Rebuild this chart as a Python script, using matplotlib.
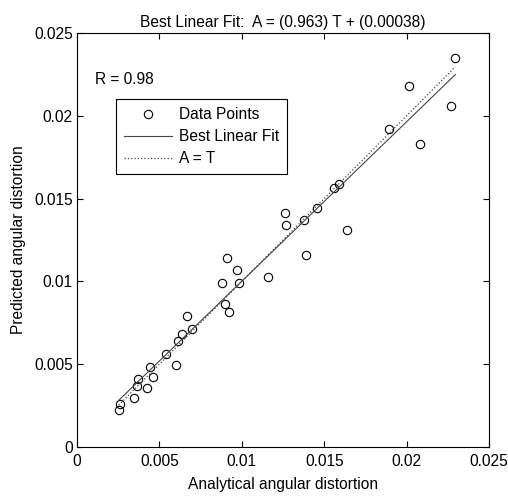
import matplotlib
matplotlib.use('Agg')
import matplotlib.pyplot as plt
from matplotlib.ticker import FormatStrFormatter
import numpy as np

plt.rcParams['font.family'] = ['Liberation Sans', 'DejaVu Sans']

# analytical (T) vs predicted (A) angular distortion
analytical = [0.02296, 0.02017, 0.02267, 0.01893, 0.02081, 0.01559, 0.01588,
              0.01454, 0.01262, 0.01268, 0.01375, 0.01638, 0.01390, 0.00908,
              0.00969, 0.01157, 0.00878, 0.00983, 0.00900, 0.00920, 0.00666,
              0.00698, 0.00635, 0.00615, 0.00538, 0.00603, 0.00441, 0.00459,
              0.00368, 0.00362, 0.00427, 0.00346, 0.00261, 0.00253]
predicted = [0.02347, 0.02180, 0.02059, 0.01920, 0.01828, 0.01564, 0.01588,
             0.01441, 0.01415, 0.01341, 0.01369, 0.01312, 0.01159, 0.01143,
             0.01069, 0.01028, 0.00992, 0.00992, 0.00864, 0.00813, 0.00791,
             0.00711, 0.00682, 0.00638, 0.00563, 0.00493, 0.00481, 0.00421,
             0.00409, 0.00368, 0.00354, 0.00294, 0.00258, 0.00223]
slope = 0.963
intercept = 0.00038
r_value = 0.98
ticks = [0, 0.005, 0.01, 0.015, 0.02, 0.025]

T = np.array(analytical)
A = np.array(predicted)
t_line = np.array([T.min(), T.max()])

fs = 11.2

fig = plt.figure(figsize=(5.08, 4.96), dpi=100)
ax = fig.add_axes([0.1516, 0.0988, 0.811, 0.8347])

ax.plot(T, A, 'o', mfc='none', mec='black', ms=6, mew=0.8, label='Data Points')
ax.plot(t_line, slope * t_line + intercept, '-', color='#444444', lw=0.8,
        label='Best Linear Fit')
ax.plot(t_line, t_line, ':', color='#444444', lw=0.9, label='A = T')

ax.set_xlim(0, 0.025)
ax.set_ylim(0, 0.025)
ax.set_xticks(ticks)
ax.set_yticks(ticks)
ax.xaxis.set_major_formatter(FormatStrFormatter('%g'))
ax.yaxis.set_major_formatter(FormatStrFormatter('%g'))
ax.tick_params(direction='in', top=True, right=True, length=4, width=0.8,
               labelsize=fs, pad=3)
ax.tick_params(axis='x', pad=5)
for s in ax.spines.values():
    s.set_linewidth(0.8)

ax.set_xlabel('Analytical angular distortion', fontsize=fs, labelpad=6)
ax.set_ylabel('Predicted angular distortion', fontsize=fs, labelpad=6)
ax.set_title('Best Linear Fit:  A = (%.3f) T + (%.5f)' % (slope, intercept),
             fontsize=fs, pad=4)
ax.text(0.0011, 0.0222, 'R = %.2f' % r_value, fontsize=fs, va='center')

leg = ax.legend(loc='upper left', bbox_to_anchor=(0.095, 0.84), fontsize=fs,
                handlelength=3.1, handletextpad=0.45, borderpad=0.5,
                labelspacing=0.45, fancybox=False, framealpha=1,
                edgecolor='black', borderaxespad=0)
leg.get_frame().set_linewidth(0.8)

fig.savefig('out.png', dpi=100)
